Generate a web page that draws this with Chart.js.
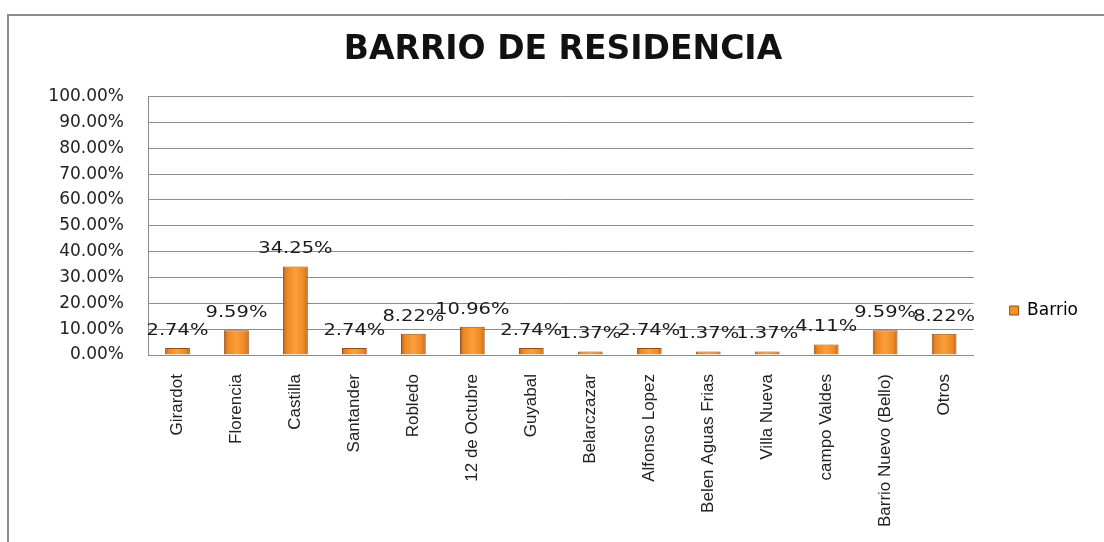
<!DOCTYPE html>
<html>
<head>
<meta charset="utf-8">
<script src="https://cdn.jsdelivr.net/npm/chart.js@4"></script>
<style>
  html, body { margin: 0; padding: 0; background: #fff; overflow: hidden; }
  #wrap { position: relative; width: 1104px; height: 542px; }
  #frame {
    position: absolute; left: 7px; top: 14px; width: 1110px; height: 540px;
    border-left: 2px solid #8c8c8c; border-top: 2px solid #8c8c8c;
    pointer-events: none;
  }
  canvas { position: absolute; left: 0; top: 0; }
</style>
</head>
<body>
<div id="wrap">
  <canvas id="barrioChart" width="1104" height="542"></canvas>
  <div id="frame"></div>
</div>
<script>
const barrios = ["Girardot", "Florencia", "Castilla", "Santander", "Robledo", "12 de Octubre", "Guyabal",
  "Belarczazar", "Alfonso Lopez", "Belen Aguas Frias", "Villa Nueva", "campo Valdes", "Barrio Nuevo (Bello)", "Otros"];
const porcentajes = [2.74, 9.59, 34.25, 2.74, 8.22, 10.96, 2.74, 1.37, 2.74, 1.37, 1.37, 4.11, 9.59, 8.22];
const serieNombre = "Barrio";
const tituloTexto = "BARRIO DE RESIDENCIA";

const barPct = 0.42;

// Bar labels drawn above each bar (Excel "outside end" style)
const dataLabels = {
  id: "dataLabels",
  afterDatasetsDraw(chart) {
    const ctx = chart.ctx;
    const meta = chart.getDatasetMeta(0);
    ctx.save();
    ctx.font = "15px 'DejaVu Sans'";
    ctx.fillStyle = "#1a1a1a";
    ctx.textAlign = "center";
    ctx.textBaseline = "alphabetic";
    meta.data.forEach((bar, i) => {
      const txt = porcentajes[i].toFixed(2) + "%";
      ctx.save();
      ctx.translate(bar.x, bar.y - 13);
      ctx.scale(1.3, 1); // stretched look of the original
      ctx.fillText(txt, 0, 0);
      ctx.restore();
    });
    ctx.restore();
  }
};

const ctx = document.getElementById("barrioChart").getContext("2d");

function barGradient(context) {
  const chart = context.chart;
  const xScale = chart.scales.x;
  if (!xScale || !chart.chartArea || context.dataIndex === undefined) return "#f39226";
  const cx = xScale.getPixelForValue(context.dataIndex);
  const half = (chart.chartArea.width / barrios.length) * barPct / 2;
  const g = chart.ctx.createLinearGradient(cx - half, 0, cx + half, 0);
  g.addColorStop(0, "#b05c18");
  g.addColorStop(0.14, "#ec8624");
  g.addColorStop(0.5, "#fb9f3a");
  g.addColorStop(0.86, "#ec8624");
  g.addColorStop(1, "#b05c18");
  return g;
}

const barrioChart = new Chart(ctx, {
  type: "bar",
  data: {
    labels: barrios,
    datasets: [
      {
        label: serieNombre,
        data: porcentajes,
        backgroundColor: barGradient,
        borderColor: "#94501a",
        borderWidth: 1,
        barPercentage: barPct,
        categoryPercentage: 1,
      },
    ],
  },
  options: {
    responsive: false,
    animation: false,
    layout: {
      padding: { left: 38, right: 16, top: 0, bottom: 0 },
    },
    scales: {
      x: {
        grid: {
          display: false,
        },
        border: {
          display: true,
          color: "#8c8c8c",
        },
        ticks: {
          autoSkip: false,
          maxRotation: 90,
          minRotation: 90,
          padding: 11,
          color: "#222",
          font: { family: "'Liberation Sans'", size: 17 },
        },
        afterFit(scale) {
          scale.height = 187;
        },
      },
      y: {
        min: 0,
        max: 100,
        ticks: {
          stepSize: 10,
          padding: 24,
          color: "#222",
          font: { family: "'DejaVu Sans'", size: 17 },
          callback: (v) => v.toFixed(2) + "%",
        },
        grid: {
          color: "#8c8c8c",
          drawTicks: false,
        },
        border: {
          display: true,
          color: "#8c8c8c",
        },
        afterFit(scale) {
          scale.width = 110;
        },
      },
    },
    plugins: {
      title: {
        display: true,
        text: tituloTexto,
        color: "#111",
        font: { family: "'DejaVu Sans'", size: 33, weight: "bold" },
        padding: { top: 31, bottom: 26 },
      },
      legend: {
        display: true,
        position: "right",
        align: "end",
        fullSize: false,
        labels: {
          boxWidth: 9,
          boxHeight: 9,
          padding: 36,
          color: "#222",
          font: { family: "'DejaVu Sans'", size: 17 },
          generateLabels: (chart) => [{
            text: serieNombre,
            fillStyle: "#f39226",
            strokeStyle: "#94501a",
            lineWidth: 1,
            datasetIndex: 0,
          }],
        },
      },
      tooltip: {
        enabled: false,
      },
    },
  },
  plugins: [dataLabels],
});
</script>
</body>
</html>
